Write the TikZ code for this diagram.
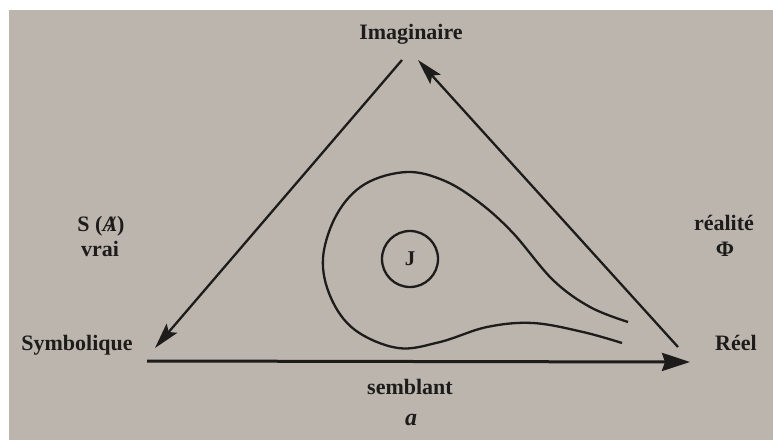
\documentclass[tikz,border=0pt]{standalone}
\usepackage{fontspec}
\setmainfont{Liberation Serif}
\usetikzlibrary{arrows.meta}
\definecolor{paper}{RGB}{187,181,174}
\definecolor{ink}{RGB}{30,27,27}
\tikzset{
  lbl/.style={text=ink, inner sep=0pt, font=\fontsize{22}{26}\selectfont\bfseries},
  edge/.style={draw=ink, line width=2.3pt},
  bigedge/.style={draw=ink, line width=3pt},
  tip/.style={-{Stealth[length=26pt,width=14pt,inset=5pt]}},
  bigtip/.style={-{Stealth[length=28pt,width=18pt,inset=3pt]}},
}
\begin{document}
\begin{tikzpicture}[x=1pt,y=-1pt]
\useasboundingbox (0,0) rectangle (773,440);
\fill[white] (0,0) rectangle (773,440);
\fill[paper] (9,10) rectangle (773,440);
% labels
\node[lbl] (imag) at (411,34) {Imaginaire};
\node[lbl] (symb) at (77,345) {Symbolique};
\node[lbl] (reel) at (736,343) {Réel};
\node[lbl] (sa) at (101,226) {S (\textit{A}\llap{\textit{/}\kern1pt})};
\node[lbl] (vrai) at (100,249) {vrai};
\node[lbl] (real) at (724,223) {réalité};
\node[lbl] (phi) at (725,249) {Φ};
\node[lbl] (semb) at (410,387) {semblant};
\node[lbl, font=\fontsize{24}{26}\selectfont\bfseries\itshape] (a) at (411,420) {a};
% vertices
\coordinate (Itl) at (402,60);
\coordinate (Itr) at (418,60);
\coordinate (Sl) at (155,348);
\coordinate (Bl) at (147,361);
\coordinate (Br) at (690,362);
\coordinate (Rb) at (678,347);
% triangle
\draw[edge, tip] (Itl) -- (Sl);
\draw[edge, tip] (Rb) -- (Itr);
\draw[bigedge, bigtip] (Bl) -- (Br);
% teardrop
\draw[edge] plot[smooth, tension=0.6] coordinates {
 (628,322) (590,307) (553,280) (513,233) (480,203) (445,181) (407,172)
 (365,184) (337,214) (323,258) (331,298) (355,330) (398,348) (440,342)
 (487,327) (533,323) (583,332) (622,343)};
% J circle
\node[draw=ink, line width=2.3pt, circle, minimum size=56pt, inner sep=0pt,
      text=ink, font=\fontsize{21}{24}\selectfont\bfseries] (J) at (410,259) {J};
\end{tikzpicture}
\end{document}
